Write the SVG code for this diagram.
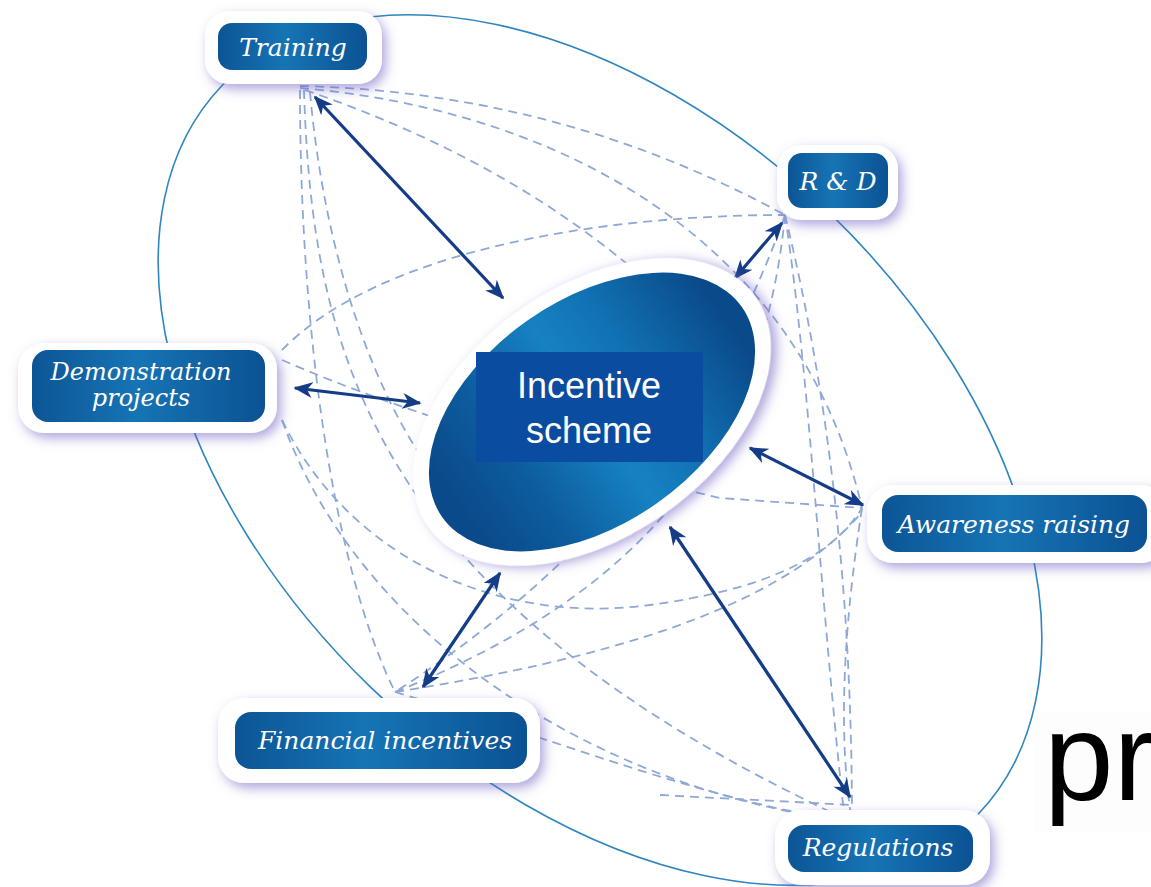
<svg xmlns="http://www.w3.org/2000/svg" width="1151" height="887" viewBox="0 0 1151 887">
<style>
.dash{fill:none;stroke:#8fa9d6;stroke-width:1.8;stroke-dasharray:9 6}
.arr{fill:none;stroke:#153c86;stroke-width:3.2;marker-start:url(#ah);marker-end:url(#ah)}
.outer{fill:#ffffff;filter:url(#sh)}
.inner{fill:url(#ng)}
.lbl{font-family:"DejaVu Serif",serif;font-style:italic;font-size:25px;fill:#ffffff;text-anchor:middle}
.ctr{font-family:"Liberation Sans",Arial,sans-serif;font-size:36px;fill:#ffffff;text-anchor:middle}
</style>
<defs>
<filter id="sh" x="-30%" y="-40%" width="160%" height="180%">
<feDropShadow dx="4" dy="5" stdDeviation="6" flood-color="#6a5cc0" flood-opacity="0.55"/>
</filter>
<linearGradient id="ng" x1="0" y1="0" x2="1" y2="0">
<stop offset="0" stop-color="#0c5595"/>
<stop offset="0.45" stop-color="#1674b5"/>
<stop offset="1" stop-color="#0b5293"/>
</linearGradient>
<linearGradient id="eg" gradientUnits="userSpaceOnUse" x1="429" y1="0" x2="755" y2="0">
<stop offset="0" stop-color="#0a4a8a"/>
<stop offset="0.22" stop-color="#0d5c9e"/>
<stop offset="0.5" stop-color="#1682c2"/>
<stop offset="0.7" stop-color="#1170b2"/>
<stop offset="1" stop-color="#0a4a8a"/>
</linearGradient>
<marker id="ah" viewBox="0 0 12 10" refX="11" refY="5" markerWidth="6" markerHeight="5" orient="auto-start-reverse" markerUnits="strokeWidth">
<path d="M0,0 L12,5 L0,10 L3.5,5 z" fill="#153c86"/>
</marker>
</defs>
<rect width="1151" height="887" fill="#ffffff"/>
<ellipse cx="600" cy="450" rx="525" ry="330" transform="rotate(44 600 450)" fill="none" stroke="#2f86bf" stroke-width="1.6"/>
<g id="connectors">
<path class="dash" d="M300,86 Q560,92 785,215"/>
<path class="dash" d="M300,88 C560,110 800,240 862,508"/>
<path class="dash" d="M305,90 C480,150 600,230 700,330"/>
<path class="dash" d="M282,350 C380,250 600,215 785,215"/>
<path class="dash" d="M300,90 C300,320 330,560 395,692"/>
<path class="dash" d="M304,90 C312,350 370,600 852,822"/>
<path class="dash" d="M310,92 C330,320 420,520 540,560"/>
<path class="dash" d="M282,420 C350,560 500,625 650,605 C760,590 830,560 862,508"/>
<path class="dash" d="M282,420 C360,640 600,790 852,822"/>
<path class="dash" d="M282,360 C420,420 600,470 720,498 L862,508"/>
<path class="dash" d="M395,692 C600,660 780,610 862,512"/>
<path class="dash" d="M395,692 C600,610 760,480 785,215"/>
<path class="dash" d="M395,692 C560,740 700,800 852,822"/>
<path class="dash" d="M785,215 C830,400 852,600 852,822"/>
<path class="dash" d="M785,215 C810,380 820,600 845,822"/>
<path class="dash" d="M862,508 C840,650 840,750 852,822"/>
<path class="dash" d="M785,215 C720,400 600,560 395,692"/>
<path class="dash" d="M660,795 L852,805"/>
<path class="arr" d="M315,97 L503,298"/>
<path class="arr" d="M782,223 L735,278"/>
<path class="arr" d="M295,388 L420,403"/>
<path class="arr" d="M750,448 L863,505"/>
<path class="arr" d="M500,573 L423,687"/>
<path class="arr" d="M670,527 L850,797"/>
</g>
<g id="incentive">
<ellipse cx="592" cy="412" rx="200" ry="125" transform="rotate(-35 592 412)" class="outer"/>
<ellipse cx="592" cy="412" rx="183" ry="112" transform="rotate(-35 592 412)" fill="url(#eg)"/>
<rect x="476" y="352" width="227" height="110" fill="#0a4da0"/>
<text class="ctr" x="589" y="398">Incentive</text>
<text class="ctr" x="589" y="443">scheme</text>
</g>
<g id="training">
<rect class="outer" x="205" y="11" width="177" height="73" rx="24"/>
<rect class="inner" x="218" y="23" width="149" height="47" rx="14"/>
<text class="lbl" x="293" y="56">Training</text>
</g>
<g id="rd">
<rect class="outer" x="777" y="145" width="121" height="75" rx="24"/>
<rect class="inner" x="788" y="153" width="100" height="55" rx="14"/>
<text class="lbl" x="838" y="190">R &amp; D</text>
</g>
<g id="demonstration">
<rect class="outer" x="18" y="343" width="259" height="90" rx="26"/>
<rect class="inner" x="32" y="350" width="233" height="72" rx="16"/>
<text class="lbl" x="141" y="380" style="font-size:24px">Demonstration</text>
<text class="lbl" x="141" y="406" style="font-size:24px">projects</text>
</g>
<g id="awareness">
<rect class="outer" x="867" y="485" width="300" height="78" rx="26"/>
<rect class="inner" x="882" y="495" width="265" height="57" rx="16"/>
<text class="lbl" x="1014" y="533">Awareness raising</text>
</g>
<g id="financial">
<rect class="outer" x="218" y="698" width="322" height="85" rx="26"/>
<rect class="inner" x="235" y="712" width="292" height="57" rx="16"/>
<text class="lbl" x="385" y="749">Financial incentives</text>
</g>
<g id="regulations">
<rect class="outer" x="775" y="810" width="215" height="75" rx="26"/>
<rect class="inner" x="788" y="825" width="185" height="47" rx="16"/>
<text class="lbl" x="878" y="856">Regulations</text>
</g>
<rect x="1035" y="713" width="116" height="120" fill="#fdfdfd"/>
<text x="1044" y="800" font-family="'Liberation Sans',Arial,sans-serif" font-size="125" fill="#000000">pr</text>
</svg>
